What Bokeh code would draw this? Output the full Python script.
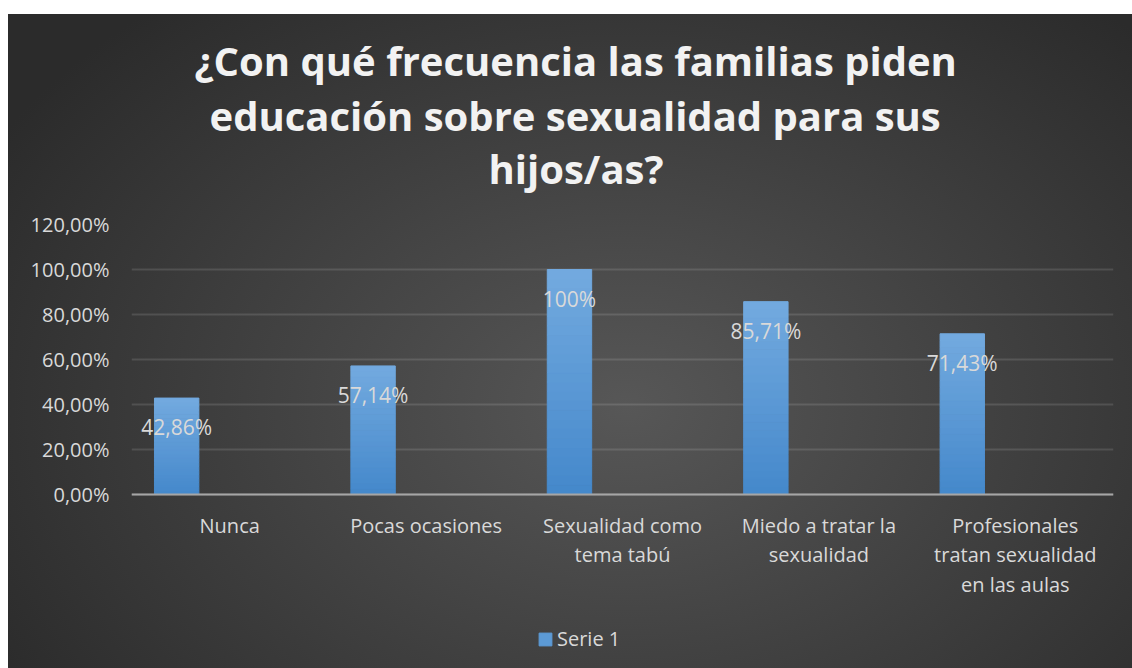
from bokeh.plotting import figure
from bokeh.models import (ColumnDataSource, Title, Legend, LegendItem,
                          CustomJSTickFormatter, FixedTicker, LabelSet)
from bokeh.transform import dodge
from bokeh.embed import file_html
from bokeh.resources import INLINE
from bokeh.core.properties import value

# ---------------- data ----------------
categories = ["Nunca", "Pocas ocasiones", "Sexualidad como\ntema tabú",
              "Miedo a tratar la\nsexualidad",
              "Profesionales\ntratan sexualidad\nen las aulas"]
values = [0.4286, 0.5714, 1.0, 0.8571, 0.7143]
value_labels = ["42,86%", "57,14%", "100%", "85,71%", "71,43%"]
y_ticks = [0, 0.2, 0.4, 0.6, 0.8, 1.0, 1.2]
series_name = "Serie 1"
title_lines = ["¿Con qué frecuencia las familias piden",
               "educación sobre sexualidad para sus",
               "hijos/as?"]

FONT = "Open Sans"
TXT = "#d9d9d9"

# ---------------- figure ----------------
# the frame extends below zero so that category labels and legend live inside it;
# 1.2 spans 270 px, the 174 px below zero correspond to 1.2*174/270
y_min = -1.2 * 174 / 270
bg = "radial-gradient(ellipse 65% 80% at 55% 60%, #575757 0%, #2b2b2b 100%)"
p = figure(x_range=categories, y_range=(y_min, 1.2),
           frame_width=982, frame_height=444,
           min_border_left=123, min_border_right=19,
           min_border_top=210, min_border_bottom=0,
           output_backend="svg", toolbar_location=None,
           border_fill_color=None, background_fill_color=None,
           outline_line_color=None,
           styles={"background": bg, "margin-top": "14px",
                   "margin-left": "8px"})
p.title.text = ""

# spacer between title and plot area, then title lines (bottom-most first)
p.add_layout(Title(text=" ", text_font=FONT, text_font_size="21px",
                   standoff=0), "above")
title_offsets = [63, 78, 357]
title_standoffs = [0, -4, -3]
for line, off, so in reversed(list(zip(title_lines, title_offsets, title_standoffs))):
    t = Title(text=line, align="left", offset=off,
              text_font=FONT, text_font_size="40px", text_font_style="bold",
              text_color="#f2f2f2", standoff=so)
    p.add_layout(t, "above")

# gradient bars built from segments
N = 24
top_rgb = (0x73, 0xaa, 0xdf)
bot_rgb = (0x44, 0x88, 0xcb)
seg = dict(x=[], bottom=[], top=[], color=[])
for c, v in zip(categories, values):
    for k in range(N):
        f = (k + 0.5) / N
        rgb = tuple(int(round(b + (t - b) * f)) for t, b in zip(top_rgb, bot_rgb))
        seg["x"].append(c)
        seg["bottom"].append(v * k / N)
        seg["top"].append(v * (k + 1) / N)
        seg["color"].append("#%02x%02x%02x" % rgb)
seg_src = ColumnDataSource(seg)
bars = p.vbar(x=dodge("x", -0.27, range=p.x_range), bottom="bottom", top="top",
              width=0.226, source=seg_src, fill_color="color",
              line_color="color", line_width=1)

# data labels
lab_src = ColumnDataSource(dict(x=categories, y=values, text=value_labels))
p.add_layout(LabelSet(x=dodge("x", -0.27, range=p.x_range), y="y", text="text",
                      source=lab_src, y_offset=-29, text_align="center",
                      text_baseline="middle", text_font=value(FONT),
                      text_font_size=value("21px"), text_color=TXT))

# axes
p.yaxis.ticker = FixedTicker(ticks=y_ticks)
p.yaxis.formatter = CustomJSTickFormatter(
    code="return (tick*100).toFixed(2).replace('.', ',') + '%';")
p.yaxis.axis_line_color = None
p.yaxis.major_tick_line_color = None
p.yaxis.minor_tick_line_color = None
p.yaxis.major_label_standoff = 16
p.yaxis.major_label_text_font = FONT
p.yaxis.major_label_text_font_size = "20px"
p.yaxis.major_label_text_color = TXT

p.xaxis.fixed_location = 0
p.xaxis.axis_line_color = "#a6a6a6"
p.xaxis.axis_line_width = 2
p.xaxis.major_tick_line_color = None
p.xaxis.minor_tick_line_color = None
p.xaxis.major_label_standoff = 11
p.xaxis.major_label_text_font = FONT
p.xaxis.major_label_text_font_size = "20px"
p.xaxis.major_label_text_color = TXT
p.xaxis.major_label_text_line_height = 1.1

p.xgrid.grid_line_color = None
p.ygrid.grid_line_color = "#ffffff"
p.ygrid.grid_line_alpha = 0.12
p.ygrid.grid_line_width = 2

# legend (uses a mid-gradient segment of the bars for its swatch)
legend = Legend(items=[LegendItem(label=series_name, renderers=[bars],
                                  index=N // 2)],
                location=(406, 16), orientation="horizontal",
                glyph_width=16, glyph_height=16, label_text_font=FONT,
                label_text_font_size="20px", label_text_color=TXT,
                background_fill_alpha=0, border_line_alpha=0,
                padding=0, margin=0, label_standoff=4, spacing=0)
p.add_layout(legend, "center")

open("out.html", "w").write(file_html(p, INLINE))
